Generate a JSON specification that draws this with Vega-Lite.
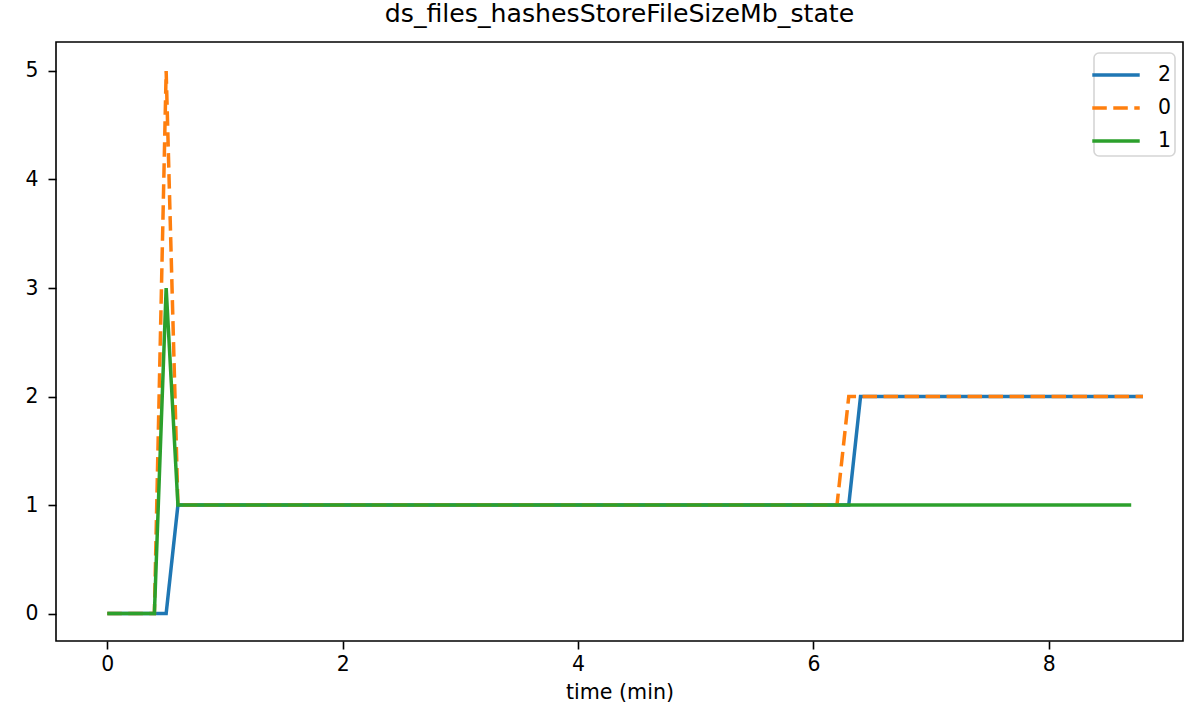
{
  "$schema": "https://vega.github.io/schema/vega-lite/v6.json",
  "width": 1127,
  "height": 599,
  "autosize": {"type": "none"},
  "padding": {"left": 56, "top": 42, "right": 2, "bottom": 75},
  "title": {"text": "ds_files_hashesStoreFileSizeMb_state", "fontSize": 25.2, "font": "DejaVu Sans", "fontWeight": "normal", "color": "#000", "offset": 15, "frame": "group", "anchor": "middle"},
  "data": {"values": [
    {"t": 0.0, "v": 0, "s": "2"},
    {"t": 0.5, "v": 0, "s": "2"},
    {"t": 0.6, "v": 1, "s": "2"},
    {"t": 6.3, "v": 1, "s": "2"},
    {"t": 6.4, "v": 2, "s": "2"},
    {"t": 8.8, "v": 2, "s": "2"},
    {"t": 0.0, "v": 0, "s": "0"},
    {"t": 0.4, "v": 0, "s": "0"},
    {"t": 0.5, "v": 5, "s": "0"},
    {"t": 0.6, "v": 1, "s": "0"},
    {"t": 6.2, "v": 1, "s": "0"},
    {"t": 6.3, "v": 2, "s": "0"},
    {"t": 8.8, "v": 2, "s": "0"},
    {"t": 0.0, "v": 0, "s": "1"},
    {"t": 0.4, "v": 0, "s": "1"},
    {"t": 0.5, "v": 3, "s": "1"},
    {"t": 0.6, "v": 1, "s": "1"},
    {"t": 8.7, "v": 1, "s": "1"}
  ]},
  "encoding": {
    "x": {"field": "t", "type": "quantitative", "title": "time (min)",
      "scale": {"domain": [-0.436, 9.14], "nice": false, "zero": false},
      "axis": {"values": [0, 2, 4, 6, 8], "format": "d", "labelPadding": 5, "titlePadding": 8}},
    "y": {"field": "v", "type": "quantitative", "title": null,
      "scale": {"domain": [-0.253, 5.267], "nice": false, "zero": false},
      "axis": {"values": [0, 1, 2, 3, 4, 5], "format": "d", "labelPadding": 10}},
    "color": {"field": "s", "type": "nominal", "title": null,
      "scale": {"domain": ["2", "0", "1"], "range": ["#1f77b4", "#ff7f0e", "#2ca02c"]}},
    "strokeDash": {"field": "s", "type": "nominal", "title": null,
      "scale": {"domain": ["2", "0", "1"], "range": [[1, 0], [14.5, 6.5], [1, 0]]}}
  },
  "layer": [
    {"transform": [{"filter": "datum.s === '2'"}], "mark": {"type": "line", "strokeWidth": 3.5, "clip": true}},
    {"transform": [{"filter": "datum.s === '0'"}], "mark": {"type": "line", "strokeWidth": 3.5, "clip": true}},
    {"transform": [{"filter": "datum.s === '1'"}], "mark": {"type": "line", "strokeWidth": 3.5, "clip": true}}
  ],
  "config": {
    "font": "DejaVu Sans",
    "view": {"stroke": "#000", "strokeWidth": 1.6},
    "axis": {"grid": false, "domain": false, "tickColor": "#000", "tickSize": 8, "tickWidth": 1.6,
      "labelColor": "#000", "labelFontSize": 20.4, "labelFont": "DejaVu Sans",
      "titleColor": "#000", "titleFontSize": 20.6, "titleFont": "DejaVu Sans", "titleFontWeight": "normal"},
    "legend": {"orient": "none", "legendX": 1038, "legendY": 11, "strokeColor": "#d5d5d5", "strokeWidth": 1.6, "cornerRadius": 5,
      "fillColor": "#ffffff", "padding": 4, "symbolType": "M-1.5,0H1.5", "symbolSize": 1000, "symbolStrokeWidth": 3.5,
      "labelFontSize": 20.4, "labelColor": "#000", "labelFont": "DejaVu Sans", "labelOffset": 24, "rowPadding": 4}
  }
}
